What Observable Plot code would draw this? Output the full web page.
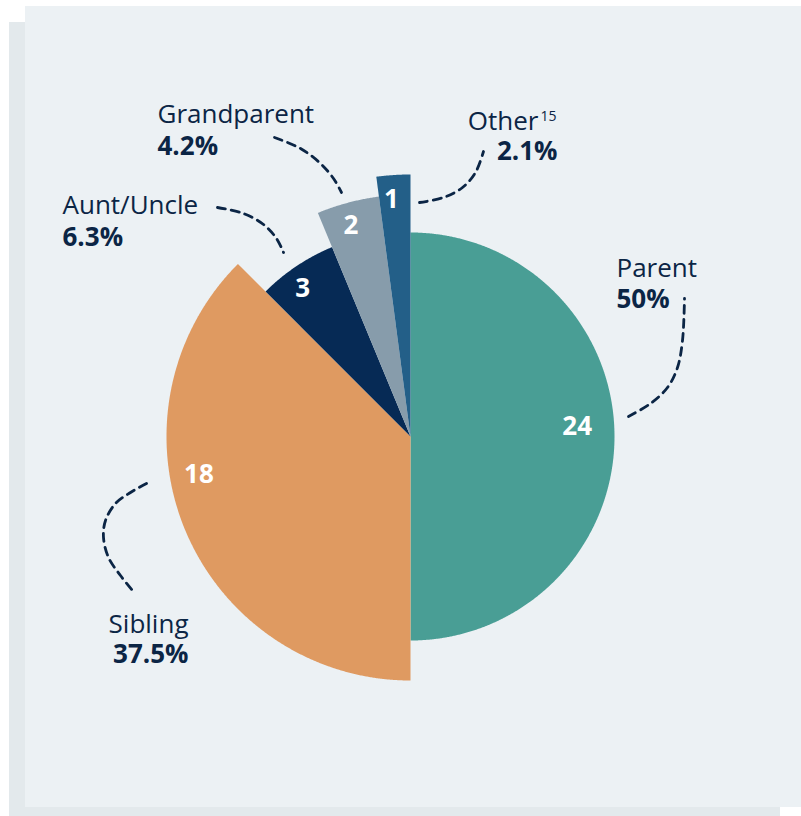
<!DOCTYPE html>
<html><head><meta charset="utf-8">
<script src="https://cdn.jsdelivr.net/npm/d3@7"></script>
<script src="https://cdn.jsdelivr.net/npm/@observablehq/plot@0.6"></script>
<style>
html,body{margin:0;padding:0;background:#fff;}
#wrap{position:relative;width:801px;height:816px;overflow:hidden;}
.shadow{position:absolute;left:9px;top:22px;width:771px;height:794px;background:#E3E9EC;}
.panel{position:absolute;left:25px;top:6px;width:776px;height:801px;background:#ECF1F4;}
#chart{position:absolute;left:0;top:0;}
</style></head><body>
<div id="wrap"><div class="shadow"></div><div class="panel"></div><div id="chart"></div></div>
<script>
// ---- data ----
const categories = ["Parent", "Sibling", "Aunt/Uncle", "Grandparent", "Other"];
const counts = [24, 18, 3, 2, 1];
const percentLabels = ["50%", "37.5%", "6.3%", "4.2%", "2.1%"];
const footnotes = ["", "", "", "", "15"];

// ---- styles / layout ----
const colors = ["#499E95", "#DF9A61", "#062A55", "#879CAB", "#235F88"];
const radii = [204, 244, 205, 242, 262];           // px slice radius
const valueLabelPolar = [[86.6, 167], [259.8, 215], [323.9, 183], [344.2, 219], [355.4, 238]]; // [deg, px]
const center = [410, 436];                          // pixel centre of pie in the page
// category label layout: [anchor, x, nameBaseline, pctX, pctBaseline]
const labelLayout = [
  ["start", 616, 276, 616, 307],
  ["end",   188, 632, 188, 662],
  ["start",  62, 213,  62, 245],
  ["start", 157, 122, 157, 154],
  ["end",   538, 129, 557, 159]
];
const footnoteLayout = [[540, 120]];
const connectors = [
  [[628,416],[650,403],[667,387],[677,367],[682,340],[684,298]],
  [[146,483],[130,492],[115,503],[105,520],[103,537],[108,557],[120,575],[132,590]],
  [[217,207],[243,213],[263,224],[276,238],[283,252]],
  [[274,137],[300,148],[320,163],[333,178],[341,192]],
  [[419,202],[443,197],[462,187],[475,172],[483,151]]
];

const ink = "#0B2545";
const total = d3.sum(counts);

// slice polygons
const slicePts = [];
let cum = 0;
categories.forEach((name, i) => {
  const a0 = cum / total * 2 * Math.PI;
  cum += counts[i];
  const a1 = cum / total * 2 * Math.PI;
  const r = radii[i];
  slicePts.push({name, color: colors[i], x: 0, y: 0});
  const n = Math.max(8, Math.ceil((a1 - a0) / (Math.PI / 720)));
  for (let k = 0; k <= n; k++) {
    const a = a0 + (a1 - a0) * k / n;
    slicePts.push({name, color: colors[i], x: r * Math.sin(a), y: -r * Math.cos(a)});
  }
});

const valueLabels = categories.map((name, i) => {
  const [deg, r] = valueLabelPolar[i];
  const a = deg * Math.PI / 180;
  return {name, text: String(counts[i]), x: r * Math.sin(a), y: -r * Math.cos(a)};
});

const rel = (px, py) => ({x: px - center[0], y: py - center[1]});
const nameRows = categories.map((name, i) => ({anchor: labelLayout[i][0], text: name, ...rel(labelLayout[i][1], labelLayout[i][2])}));
const pctRows = categories.map((name, i) => ({anchor: labelLayout[i][0], text: percentLabels[i], ...rel(labelLayout[i][3], labelLayout[i][4])}));
const noteRows = footnotes.map((t, i) => ({t, i})).filter(d => d.t).map((d, j) => ({text: d.t, ...rel(footnoteLayout[j][0], footnoteLayout[j][1])}));
const connPts = connectors.flatMap((pts, i) => pts.map(([px, py]) => ({name: categories[i], ...rel(px, py)})));

const textOpts = {fill: ink, fontSize: 26, lineAnchor: "bottom", fontFamily: "Open Sans"};

const chart = Plot.plot({
  width: 801, height: 816,
  margin: 0,
  x: {domain: [-center[0], 801 - center[0]], range: [0, 801], axis: null},
  y: {domain: [-center[1], 816 - center[1]], range: [0, 816], axis: null},
  style: {background: "transparent", fontFamily: "Open Sans"},
  marks: [
    Plot.line(slicePts, {x: "x", y: "y", z: "name", fill: "color", stroke: "none", curve: "linear-closed"}),
    Plot.line(connPts, {x: "x", y: "y", z: "name", stroke: ink, strokeWidth: 2.8, strokeDasharray: "8,6", curve: "catmull-rom"}),
    Plot.text(valueLabels, {x: "x", y: "y", text: "text", fill: "#ffffff", fontSize: 26, fontWeight: 700, fontFamily: "Open Sans"}),
    Plot.text(nameRows.filter(d => d.anchor === "start"), {x: "x", y: "y", text: "text", textAnchor: "start", ...textOpts}),
    Plot.text(nameRows.filter(d => d.anchor === "end"), {x: "x", y: "y", text: "text", textAnchor: "end", ...textOpts}),
    Plot.text(pctRows.filter(d => d.anchor === "start"), {x: "x", y: "y", text: "text", textAnchor: "start", ...textOpts, fontWeight: 700}),
    Plot.text(pctRows.filter(d => d.anchor === "end"), {x: "x", y: "y", text: "text", textAnchor: "end", ...textOpts, fontWeight: 700}),
    Plot.text(noteRows, {x: "x", y: "y", text: "text", textAnchor: "start", fill: ink, fontSize: 14, lineAnchor: "bottom", fontFamily: "Open Sans"})
  ]
});
document.getElementById("chart").appendChild(chart);
</script>
</body></html>
